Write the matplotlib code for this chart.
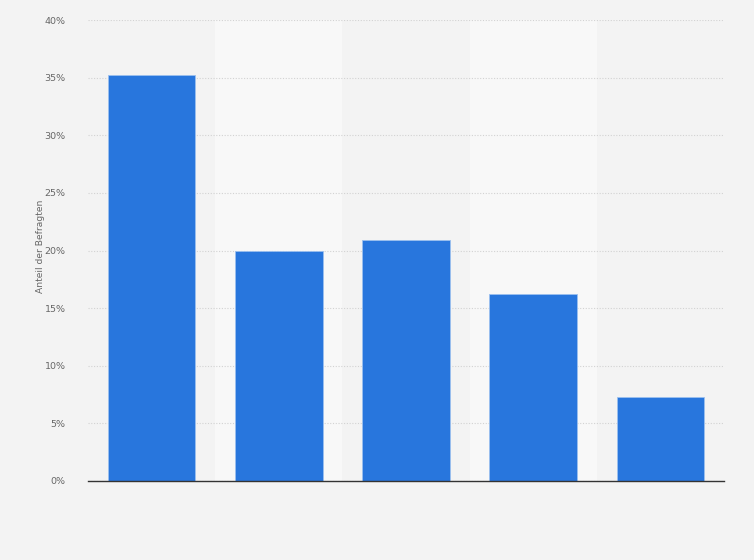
import matplotlib
matplotlib.use("Agg")
import matplotlib.pyplot as plt
from matplotlib.ticker import FuncFormatter

categories = ["A", "B", "C", "D", "E"]
values = [35.2, 20.0, 20.9, 16.2, 7.3]
yticks = [0, 5, 10, 15, 20, 25, 30, 35, 40]

fig = plt.figure(figsize=(7.54, 5.60), dpi=100)
fig.patch.set_facecolor("#f3f3f3")
ax = fig.add_axes([88/754, (560-481)/560, (724-88)/754, (481-20)/560])
ax.set_facecolor("#f3f3f3")

x = list(range(len(categories)))
for i in x:
    if i % 2 == 1:
        ax.axvspan(i - 0.5, i + 0.5, color="#f8f8f8", zorder=0, lw=0)

ax.bar(x, values, width=0.69, color="#2876dd", edgecolor="#9cc0ef", linewidth=0.6, zorder=3)

ax.set_xlim(-0.5, len(categories) - 0.5)
ax.set_ylim(0, 40)
ax.set_yticks(yticks)
ax.yaxis.set_major_formatter(FuncFormatter(lambda v, p: f"{int(v)}%"))
ax.set_xticks([])
ax.grid(axis="y", color="#d2d2d2", linestyle=(0, (1, 1.5)), linewidth=0.8, zorder=1)
for s in ["top", "right", "left"]:
    ax.spines[s].set_visible(False)
ax.spines["bottom"].set_color("#333333")
ax.spines["bottom"].set_linewidth(1.0)
ax.spines["bottom"].set_zorder(4)
ax.tick_params(axis="y", length=0, pad=16, labelsize=6.8, labelcolor="#666666")
ax.set_ylabel("Anteil der Befragten", fontsize=6.6, color="#666666")
ax.yaxis.set_label_coords((45 - 88) / 636, 0.509)

fig.savefig("out.png", dpi=100, facecolor=fig.get_facecolor())
